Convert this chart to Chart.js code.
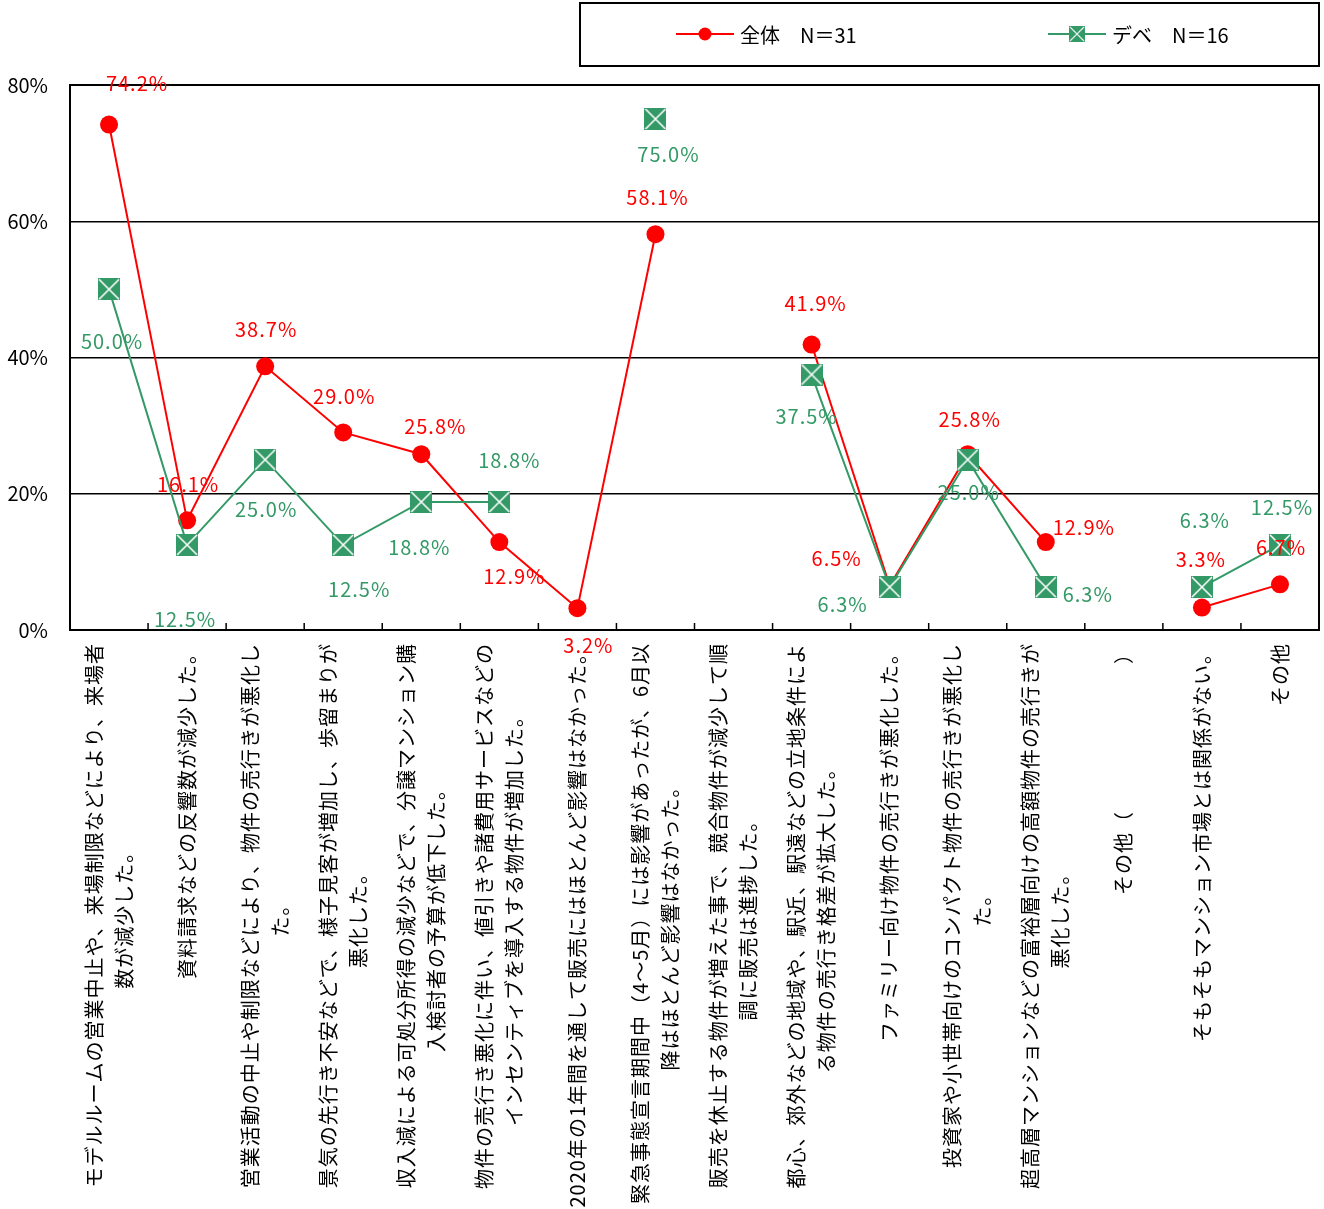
<!DOCTYPE html>
<html>
<head>
<meta charset="utf-8">
<script src="https://cdn.jsdelivr.net/npm/chart.js@4"></script>
<style>
  html, body { margin: 0; padding: 0; background: #fff; overflow: hidden; }
  #wrap { position: relative; width: 1324px; height: 1209px; }
</style>
</head>
<body>
<div id="wrap"><canvas id="chart"></canvas></div>
<script>
const categories = [
  ['モデルルームの営業中止や、来場制限などにより、来場者', '数が減少した。'],
  ['資料請求などの反響数が減少した。'],
  ['営業活動の中止や制限などにより、物件の売行きが悪化し', 'た。'],
  ['景気の先行き不安などで、様子見客が増加し、歩留まりが', '悪化した。'],
  ['収入減による可処分所得の減少などで、分譲マンション購', '入検討者の予算が低下した。'],
  ['物件の売行き悪化に伴い、値引きや諸費用サービスなどの', 'インセンティブを導入する物件が増加した。'],
  ['2020年の1年間を通して販売にはほとんど影響はなかった。'],
  ['緊急事態宣言期間中（4～5月）には影響があったが、6月以', '降はほとんど影響はなかった。'],
  ['販売を休止する物件が増えた事で、競合物件が減少して順', '調に販売は進捗した。'],
  ['都心、郊外などの地域や、駅近、駅遠などの立地条件によ', 'る物件の売行き格差が拡大した。'],
  ['ファミリー向け物件の売行きが悪化した。'],
  ['投資家や小世帯向けのコンパクト物件の売行きが悪化し', 'た。'],
  ['超高層マンションなどの富裕層向けの高額物件の売行きが', '悪化した。'],
  ['その他（　　　　　　　）'],
  ['そもそもマンション市場とは関係がない。'],
  ['その他']
];
const seriesNames = ['全体　N＝31', 'デベ　N＝16'];
const allValues = [74.2, 16.1, 38.7, 29.0, 25.8, 12.9, 3.2, 58.1, null, 41.9, 6.5, 25.8, 12.9, null, 3.3, 6.7];
const devValues = [50.0, 12.5, 25.0, 12.5, 18.8, 18.8, null, 75.0, null, 37.5, 6.3, 25.0, 6.3, null, 6.3, 12.5];
const yTicks = [0, 20, 40, 60, 80];

// where each value label sits relative to its point
const allLabelOffsets = [[28,-41],[1,-36],[1,-37],[1,-36],[14,-28],[15,34],[11,37],[2,-37],null,[4,-41],[-53,-27],[2,-35],[38,-15],null,[-1,-48],[1,-37]];
const devLabelOffsets = [[3,52],[-2,75],[1,50],[16,45],[-2,45],[10,-42],null,[13,35],null,[-5,42],[-47,17],[1,33],[42,7],null,[3,-67],[2,-37]];

const RED = '#ff0000';
const GREEN = '#339966';
const FONT = '"Noto Sans CJK JP", "Noto Sans", sans-serif';

function makeCrossBox(size) {
  const c = document.createElement('canvas');
  c.width = size; c.height = size;
  const g = c.getContext('2d');
  g.fillStyle = GREEN;
  g.fillRect(0, 0, size, size);
  g.strokeStyle = '#fff';
  g.lineWidth = 1.6;
  g.beginPath();
  g.moveTo(1, 1); g.lineTo(size - 1, size - 1);
  g.moveTo(size - 1, 1); g.lineTo(1, size - 1);
  g.stroke();
  return c;
}
const crossBox = makeCrossBox(22);

const framePlugin = {
  id: 'frame',
  beforeDatasetsDraw(chart) {
    const { ctx, chartArea: a, scales } = chart;
    ctx.save();
    ctx.strokeStyle = '#000';
    ctx.lineWidth = 2;
    ctx.strokeRect(a.left, a.top, a.right - a.left, a.bottom - a.top);
    // small ticks between categories, pointing up
    ctx.lineWidth = 1.5;
    ctx.beginPath();
    for (let i = 1; i < categories.length; i++) {
      const x = (scales.x.getPixelForValue(i - 1) + scales.x.getPixelForValue(i)) / 2;
      ctx.moveTo(x, a.bottom);
      ctx.lineTo(x, a.bottom - 7);
    }
    ctx.stroke();
    ctx.restore();
  }
};

const catLabelPlugin = {
  id: 'catLabels',
  afterDraw(chart) {
    const { ctx, chartArea: a, scales } = chart;
    ctx.save();
    ctx.font = '20px ' + FONT;
    ctx.letterSpacing = '1px';
    ctx.fillStyle = '#000';
    ctx.textAlign = 'center';
    ctx.textBaseline = 'middle';
    const lineH = 30;
    chart.data.labels.forEach((lab, i) => {
      const lines = Array.isArray(lab) ? lab : [lab];
      const w = Math.max(...lines.map(l => ctx.measureText(l).width));
      const x = scales.x.getPixelForValue(i);
      ctx.save();
      ctx.translate(x, a.bottom + 13);
      ctx.rotate(-Math.PI / 2);
      lines.forEach((l, k) => {
        ctx.fillText(l, -w / 2, (k - (lines.length - 1) / 2) * lineH);
      });
      ctx.restore();
    });
    ctx.restore();
  }
};

const valueLabelPlugin = {
  id: 'valueLabels',
  afterDraw(chart) {
    const { ctx } = chart;
    ctx.save();
    ctx.font = '20px ' + FONT;
    ctx.letterSpacing = '1px';
    ctx.textAlign = 'center';
    ctx.textBaseline = 'middle';
    chart.data.datasets.forEach((ds, di) => {
      const meta = chart.getDatasetMeta(di);
      ctx.fillStyle = ds.borderColor;
      meta.data.forEach((pt, i) => {
        const v = ds.data[i];
        const off = ds.labelOffsets[i];
        if (v == null || !off) return;
        ctx.fillText(v.toFixed(1) + '%', pt.x + off[0], pt.y + off[1]);
      });
    });
    ctx.restore();
  }
};

const legendPlugin = {
  id: 'boxLegend',
  afterDraw(chart) {
    const { ctx } = chart;
    ctx.save();
    ctx.strokeStyle = '#000';
    ctx.lineWidth = 2;
    ctx.strokeRect(580, 3, 739, 63);
    const y = 34;
    const starts = [676, 1048];
    ctx.font = '20px ' + FONT;
    ctx.textBaseline = 'middle';
    ctx.textAlign = 'left';
    chart.data.datasets.forEach((ds, di) => {
      const x0 = starts[di];
      ctx.strokeStyle = ds.borderColor;
      ctx.lineWidth = 2;
      ctx.beginPath();
      ctx.moveTo(x0, y);
      ctx.lineTo(x0 + 58, y);
      ctx.stroke();
      if (ds.pointStyle === 'circle') {
        ctx.fillStyle = ds.borderColor;
        ctx.beginPath();
        ctx.arc(x0 + 29, y, 6.5, 0, Math.PI * 2);
        ctx.fill();
      } else {
        ctx.drawImage(crossBox, x0 + 29 - 8, y - 8, 16, 16);
      }
      ctx.fillStyle = '#000';
      ctx.fillText(ds.label, x0 + 64, y + 1);
    });
    ctx.restore();
  }
};

new Chart(document.getElementById('chart'), {
  type: 'line',
  data: {
    labels: categories,
    datasets: [
      {
        label: seriesNames[0],
        data: allValues,
        labelOffsets: allLabelOffsets,
        borderColor: RED,
        backgroundColor: RED,
        borderWidth: 2,
        pointStyle: 'circle',
        pointRadius: 9,
        pointBorderWidth: 0,
        spanGaps: false,
        order: 1
      },
      {
        label: seriesNames[1],
        data: devValues,
        labelOffsets: devLabelOffsets,
        borderColor: GREEN,
        backgroundColor: GREEN,
        borderWidth: 2,
        pointStyle: crossBox,
        pointRadius: 11,
        spanGaps: false,
        order: 0
      }
    ]
  },
  options: {
    responsive: true,
    maintainAspectRatio: false,
    animation: false,
    layout: { autoPadding: false, padding: { top: 85, right: 5, left: 0, bottom: 0 } },
    plugins: { legend: { display: false }, tooltip: { enabled: false } },
    scales: {
      x: {
        type: 'category',
        offset: true,
        grid: { display: false },
        border: { display: false },
        ticks: { display: false },
        afterFit: s => { s.height = 579; }
      },
      y: {
        min: 0,
        max: 80,
        afterBuildTicks: s => { s.ticks = yTicks.map(v => ({ value: v })); },
        ticks: {
          callback: v => v + '%',
          color: '#000',
          font: { size: 20, family: FONT },
          padding: 22
        },
        grid: { color: '#000', lineWidth: 1.5, drawTicks: false },
        border: { display: false },
        afterFit: s => { s.width = 70; }
      }
    }
  },
  plugins: [framePlugin, catLabelPlugin, valueLabelPlugin, legendPlugin]
});
</script>
</body>
</html>
